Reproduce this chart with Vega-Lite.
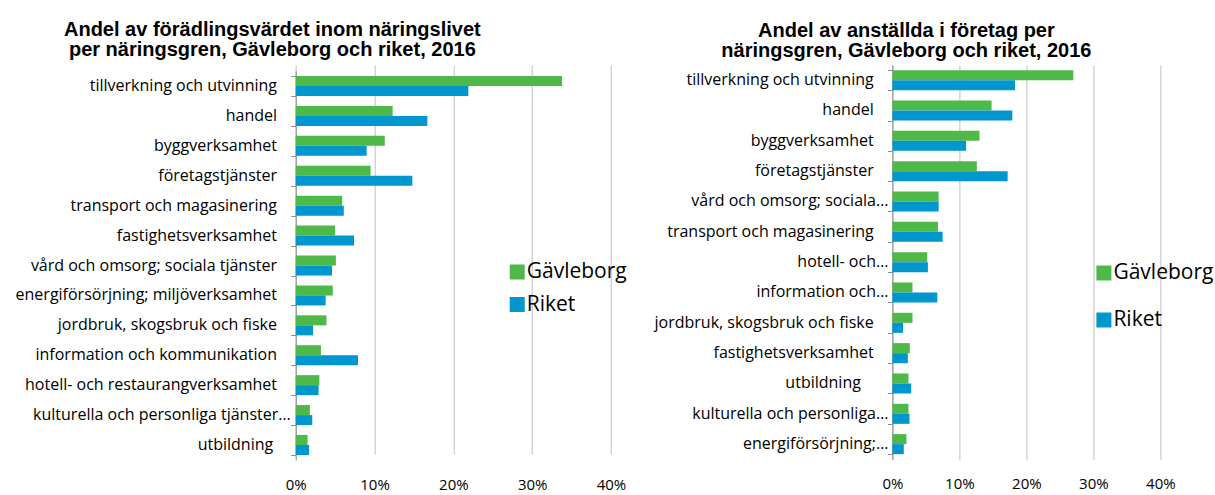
{
  "$schema": "https://vega.github.io/schema/vega-lite/v6.json",
  "autosize": {"type": "none"},
  "padding": {"left": 295.7, "top": 65, "right": 919.3, "bottom": 430},
  "background": "white",
  "bounds": "flush",
  "spacing": 280.7,
  "config": {"view": {"stroke": null}, "font": "Open Sans", "text": {"font": "Open Sans", "fontSize": 16, "color": "black", "align": "right", "baseline": "middle"}},
  "datasets": {
    "forad": [
      {"gren": "tillverkning och utvinning", "omrade": "Gävleborg", "andel": 0.338},
      {"gren": "tillverkning och utvinning", "omrade": "Riket", "andel": 0.219},
      {"gren": "handel", "omrade": "Gävleborg", "andel": 0.123},
      {"gren": "handel", "omrade": "Riket", "andel": 0.167},
      {"gren": "byggverksamhet", "omrade": "Gävleborg", "andel": 0.113},
      {"gren": "byggverksamhet", "omrade": "Riket", "andel": 0.090},
      {"gren": "företagstjänster", "omrade": "Gävleborg", "andel": 0.095},
      {"gren": "företagstjänster", "omrade": "Riket", "andel": 0.148},
      {"gren": "transport och magasinering", "omrade": "Gävleborg", "andel": 0.059},
      {"gren": "transport och magasinering", "omrade": "Riket", "andel": 0.061},
      {"gren": "fastighetsverksamhet", "omrade": "Gävleborg", "andel": 0.050},
      {"gren": "fastighetsverksamhet", "omrade": "Riket", "andel": 0.074},
      {"gren": "vård och omsorg; sociala tjänster", "omrade": "Gävleborg", "andel": 0.051},
      {"gren": "vård och omsorg; sociala tjänster", "omrade": "Riket", "andel": 0.046},
      {"gren": "energiförsörjning; miljöverksamhet", "omrade": "Gävleborg", "andel": 0.047},
      {"gren": "energiförsörjning; miljöverksamhet", "omrade": "Riket", "andel": 0.038},
      {"gren": "jordbruk, skogsbruk och fiske", "omrade": "Gävleborg", "andel": 0.039},
      {"gren": "jordbruk, skogsbruk och fiske", "omrade": "Riket", "andel": 0.022},
      {"gren": "information och kommunikation", "omrade": "Gävleborg", "andel": 0.032},
      {"gren": "information och kommunikation", "omrade": "Riket", "andel": 0.079},
      {"gren": "hotell- och restaurangverksamhet", "omrade": "Gävleborg", "andel": 0.030},
      {"gren": "hotell- och restaurangverksamhet", "omrade": "Riket", "andel": 0.029},
      {"gren": "kulturella och personliga tjänster…", "omrade": "Gävleborg", "andel": 0.018},
      {"gren": "kulturella och personliga tjänster…", "omrade": "Riket", "andel": 0.021},
      {"gren": "utbildning ", "omrade": "Gävleborg", "andel": 0.015},
      {"gren": "utbildning ", "omrade": "Riket", "andel": 0.017}
    ],
    "anst": [
      {"gren": "tillverkning och utvinning", "omrade": "Gävleborg", "andel": 0.270},
      {"gren": "tillverkning och utvinning", "omrade": "Riket", "andel": 0.183},
      {"gren": "handel", "omrade": "Gävleborg", "andel": 0.148},
      {"gren": "handel", "omrade": "Riket", "andel": 0.179},
      {"gren": "byggverksamhet", "omrade": "Gävleborg", "andel": 0.130},
      {"gren": "byggverksamhet", "omrade": "Riket", "andel": 0.110},
      {"gren": "företagstjänster", "omrade": "Gävleborg", "andel": 0.126},
      {"gren": "företagstjänster", "omrade": "Riket", "andel": 0.172},
      {"gren": "vård och omsorg; sociala…", "omrade": "Gävleborg", "andel": 0.069},
      {"gren": "vård och omsorg; sociala…", "omrade": "Riket", "andel": 0.069},
      {"gren": "transport och magasinering", "omrade": "Gävleborg", "andel": 0.068},
      {"gren": "transport och magasinering", "omrade": "Riket", "andel": 0.075},
      {"gren": "hotell- och…", "omrade": "Gävleborg", "andel": 0.052},
      {"gren": "hotell- och…", "omrade": "Riket", "andel": 0.053},
      {"gren": "information och…", "omrade": "Gävleborg", "andel": 0.030},
      {"gren": "information och…", "omrade": "Riket", "andel": 0.067},
      {"gren": "jordbruk, skogsbruk och fiske", "omrade": "Gävleborg", "andel": 0.030},
      {"gren": "jordbruk, skogsbruk och fiske", "omrade": "Riket", "andel": 0.016},
      {"gren": "fastighetsverksamhet", "omrade": "Gävleborg", "andel": 0.026},
      {"gren": "fastighetsverksamhet", "omrade": "Riket", "andel": 0.023},
      {"gren": "utbildning ", "omrade": "Gävleborg", "andel": 0.024},
      {"gren": "utbildning ", "omrade": "Riket", "andel": 0.028},
      {"gren": "kulturella och personliga…", "omrade": "Gävleborg", "andel": 0.024},
      {"gren": "kulturella och personliga…", "omrade": "Riket", "andel": 0.0255},
      {"gren": "energiförsörjning;…", "omrade": "Gävleborg", "andel": 0.021},
      {"gren": "energiförsörjning;…", "omrade": "Riket", "andel": 0.017}
    ]
  },
  "resolve": {
    "scale": {"x": "independent", "y": "independent", "color": "independent"},
    "legend": {"color": "independent"}
  },
  "hconcat": [
    {
      "width": 315.3,
      "height": 395,
      "data": {"name": "forad"},
      "title": {
        "text": ["Andel av förädlingsvärdet inom näringslivet", "per näringsgren, Gävleborg och riket, 2016"],
        "font": "Liberation Sans", "fontSize": 20, "fontWeight": "bold", "color": "black",
        "lineHeight": 20, "anchor": "middle", "frame": "group", "dx": -181, "offset": 5
      },
      "encoding": {
        "y": {
          "field": "gren", "type": "nominal", "sort": null,
          "scale": {"range": [6, 395], "paddingInner": 0.33, "paddingOuter": 0.167},
          "axis": {
            "title": null, "domainColor": "#8C8C8C", "tickColor": "#8C8C8C", "tickBand": "extent",
            "tickSize": 5, "labels": false, "grid": false
          }
        }
      },
      "layer": [
        {
          "mark": {"type": "bar"},
          "encoding": {
            "yOffset": {"field": "omrade", "sort": ["Gävleborg", "Riket"]},
            "x": {
              "field": "andel", "type": "quantitative",
              "scale": {"domain": [0, 0.4], "nice": false},
              "axis": {
                "title": null, "format": ".0%", "values": [0, 0.1, 0.2, 0.3, 0.4], "domain": false, "ticks": false,
                "grid": true, "gridColor": "#BFBFBF", "labelFont": "Open Sans", "labelFontSize": 15,
                "labelPadding": 17, "labelColor": "black", "labelFlush": false
              }
            },
            "color": {
              "field": "omrade", "type": "nominal",
              "scale": {"domain": ["Gävleborg", "Riket"], "range": ["#4EB848", "#0096CE"]},
              "legend": {
                "title": null, "orient": "none", "legendX": 211, "legendY": 196.5, "padding": 0,
                "symbolType": "square", "symbolSize": 225, "symbolStrokeWidth": 0, "symbolOpacity": 1,
                "labelFont": "Open Sans", "labelFontSize": 21, "labelColor": "black", "labelOffset": -1,
                "rowPadding": 10.5
              }
            }
          }
        },
        {
          "transform": [{"filter": "datum.omrade == 'Gävleborg' && slice(datum.gren, -1) == '…'"}],
          "mark": {"type": "text", "dx": -5},
          "encoding": {"x": {"datum": 0}, "text": {"field": "gren"}}
        },
        {
          "transform": [{"filter": "datum.omrade == 'Gävleborg' && slice(datum.gren, -1) == ' '"}],
          "mark": {"type": "text", "dx": -22.5},
          "encoding": {"x": {"datum": 0}, "text": {"field": "gren"}}
        },
        {
          "transform": [{"filter": "datum.omrade == 'Gävleborg' && slice(datum.gren, -1) != ' ' && slice(datum.gren, -1) != '…'"}],
          "mark": {"type": "text", "dx": -18.7},
          "encoding": {"x": {"datum": 0}, "text": {"field": "gren"}}
        }
      ]
    },
    {
      "width": 268,
      "height": 394.3,
      "data": {"name": "anst"},
      "title": {
        "text": ["Andel av anställda i företag per", "näringsgren, Gävleborg och riket, 2016"],
        "font": "Liberation Sans", "fontSize": 20, "fontWeight": "bold", "color": "black",
        "lineHeight": 20, "anchor": "middle", "frame": "group", "dx": -120, "offset": 4
      },
      "encoding": {
        "y": {
          "field": "gren", "type": "nominal", "sort": null,
          "scale": {"paddingInner": 0.34, "paddingOuter": 0.17},
          "axis": {
            "title": null, "domainColor": "#8C8C8C", "tickColor": "#8C8C8C", "tickBand": "extent",
            "tickSize": 5, "labels": false, "grid": false
          }
        }
      },
      "layer": [
        {
          "mark": {"type": "bar"},
          "encoding": {
            "yOffset": {"field": "omrade", "sort": ["Gävleborg", "Riket"]},
            "x": {
              "field": "andel", "type": "quantitative",
              "scale": {"domain": [0, 0.4], "nice": false},
              "axis": {
                "title": null, "format": ".0%", "values": [0, 0.1, 0.2, 0.3, 0.4], "domain": false, "ticks": false,
                "grid": true, "gridColor": "#BFBFBF", "labelFont": "Open Sans", "labelFontSize": 15,
                "labelPadding": 17, "labelColor": "black", "labelFlush": false
              }
            },
            "color": {
              "field": "omrade", "type": "nominal",
              "scale": {"domain": ["Gävleborg", "Riket"], "range": ["#4EB848", "#0096CE"]},
              "legend": {
                "title": null, "orient": "none", "legendX": 201, "legendY": 197.5, "padding": 0,
                "symbolType": "square", "symbolSize": 225, "symbolStrokeWidth": 0, "symbolOpacity": 1,
                "labelFont": "Open Sans", "labelFontSize": 21, "labelColor": "black", "labelOffset": -1,
                "rowPadding": 25
              }
            }
          }
        },
        {
          "transform": [{"filter": "datum.omrade == 'Gävleborg' && slice(datum.gren, -1) == '…'"}],
          "mark": {"type": "text", "dx": -4},
          "encoding": {"x": {"datum": 0}, "text": {"field": "gren"}}
        },
        {
          "transform": [{"filter": "datum.omrade == 'Gävleborg' && slice(datum.gren, -1) == ' '"}],
          "mark": {"type": "text", "dx": -31.5},
          "encoding": {"x": {"datum": 0}, "text": {"field": "gren"}}
        },
        {
          "transform": [{"filter": "datum.omrade == 'Gävleborg' && slice(datum.gren, -1) != ' ' && slice(datum.gren, -1) != '…'"}],
          "mark": {"type": "text", "dx": -18.7},
          "encoding": {"x": {"datum": 0}, "text": {"field": "gren"}}
        }
      ]
    }
  ]
}
